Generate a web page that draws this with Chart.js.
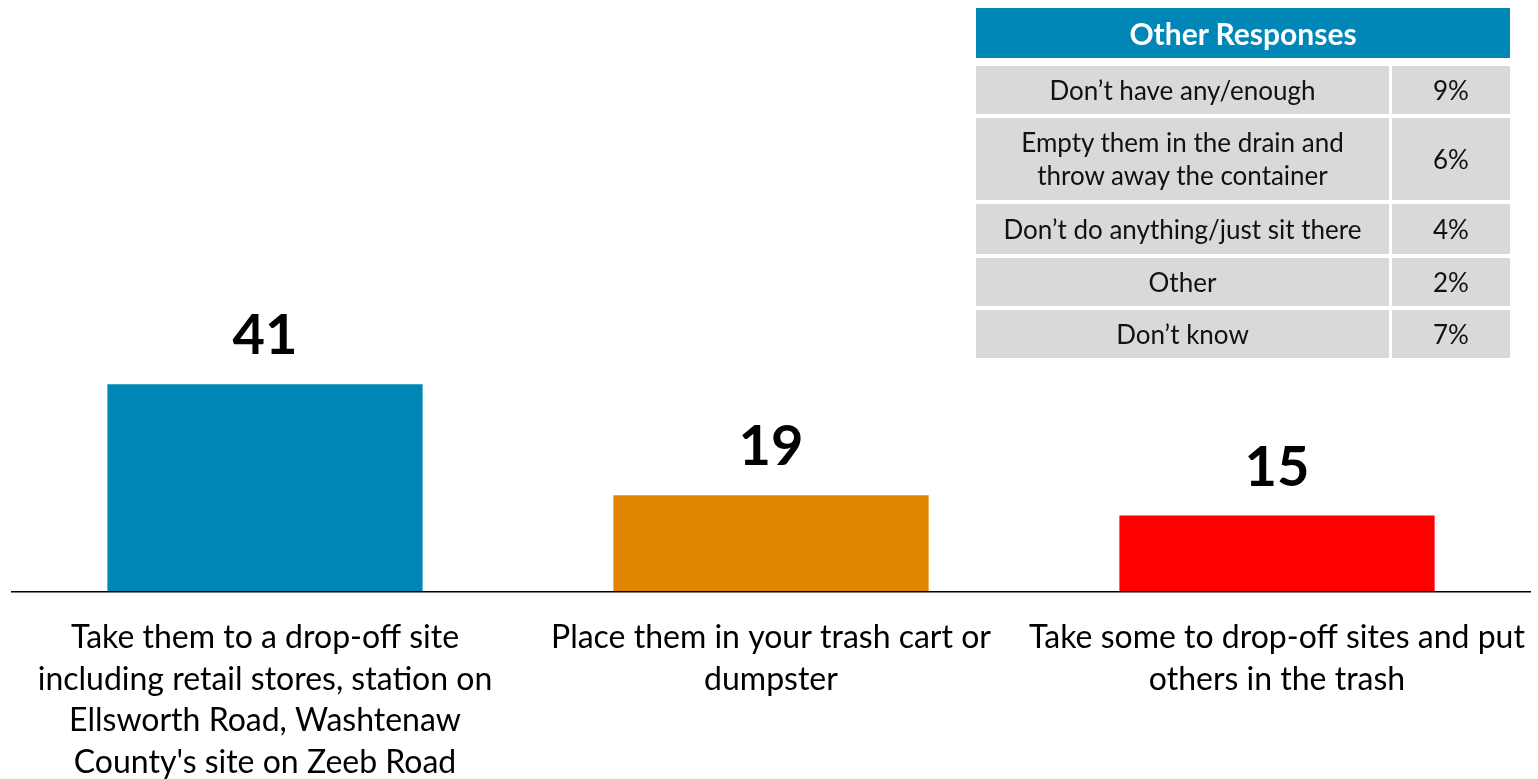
<!DOCTYPE html>
<html>
<head>
<meta charset="utf-8">
<script src="https://cdn.jsdelivr.net/npm/chart.js@4/dist/chart.umd.min.js"></script>
<style>
  html, body { margin: 0; padding: 0; background: #fff; overflow: hidden; }
  #wrap { position: relative; width: 1538px; height: 815px; }
  #other {
    position: absolute; left: 976px; top: 8px; width: 534px;
    font-family: Lato, sans-serif; color: #111;
  }
  #other .head {
    height: 50px; background: #0086b7; color: #fff; font-weight: bold;
    font-size: 30px; display: flex; align-items: center; justify-content: center;
    margin-bottom: 8px;
  }
  #other .rows {
    display: grid; grid-template-columns: 413px 118px; column-gap: 3px; row-gap: 4px;
  }
  #other .cell {
    background: #d9d9d9; font-size: 26px; line-height: 33px; text-align: center;
    display: flex; align-items: center; justify-content: center;
  }
</style>
</head>
<body>
<div id="wrap">
  <canvas id="chart"></canvas>
  <div id="other">
    <div class="head">Other Responses</div>
    <div class="rows" id="otherRows"></div>
  </div>
</div>
<script>
const categories = [
  ['Take them to a drop-off site', 'including retail stores, station on', 'Ellsworth Road, Washtenaw', "County's site on Zeeb Road"],
  ['Place them in your trash cart or', 'dumpster'],
  ['Take some to drop-off sites and put', 'others in the trash']
];
const values = [41, 19, 15];
const barColors = ['#0086b7', '#e08600', '#ff0000'];

const otherLabels = ['Don\u2019t have any/enough', 'Empty them in the drain and\nthrow away the container', 'Don\u2019t do anything/just sit there', 'Other', 'Don\u2019t know'];
const otherValues = ['9%', '6%', '4%', '2%', '7%'];
const rowHeights = [48, 82, 50, 48, 48];

// side table
const rows = document.getElementById('otherRows');
rows.style.gridTemplateRows = rowHeights.map(h => h + 'px').join(' ');
otherLabels.forEach((label, i) => {
  const a = document.createElement('div');
  a.className = 'cell';
  a.innerHTML = label.replace('\n', '<br>');
  const b = document.createElement('div');
  b.className = 'cell';
  b.textContent = otherValues[i];
  rows.appendChild(a);
  rows.appendChild(b);
});

// value labels above bars
const valueLabels = {
  id: 'valueLabels',
  afterDatasetsDraw(chart) {
    const ctx = chart.ctx;
    const meta = chart.getDatasetMeta(0);
    ctx.save();
    ctx.font = 'bold 56px Lato';
    ctx.fillStyle = '#000';
    ctx.textAlign = 'center';
    ctx.textBaseline = 'alphabetic';
    meta.data.forEach((bar, i) => {
      ctx.fillText(String(values[i]), bar.x, bar.y - 30);
    });
    ctx.restore();
  }
};

const canvas = document.getElementById('chart');
canvas.width = 1538;
canvas.height = 815;

new Chart(canvas, {
  type: 'bar',
  data: {
    labels: categories,
    datasets: [{
      data: values,
      backgroundColor: barColors,
      barPercentage: 0.623,
      categoryPercentage: 1
    }]
  },
  options: {
    responsive: false,
    animation: false,
    layout: { padding: { left: 12, right: 8, top: 86, bottom: 6 } },
    plugins: { legend: { display: false }, tooltip: { enabled: false } },
    scales: {
      x: {
        // long labels may spill past the edge, don't shrink the plot for them
        afterFit(scale) {
          scale.paddingLeft = 0;
          scale.paddingRight = 0;
        },
        grid: { display: false, drawTicks: false },
        border: { display: true, color: '#000', width: 1.5 },
        ticks: {
          color: '#000',
          padding: 25,
          maxRotation: 0,
          autoSkip: false,
          font: { family: 'Lato', size: 32, lineHeight: 1.31 }
        }
      },
      y: {
        display: false,
        min: 0,
        max: 100
      }
    }
  },
  plugins: [valueLabels]
});
</script>
</body>
</html>
